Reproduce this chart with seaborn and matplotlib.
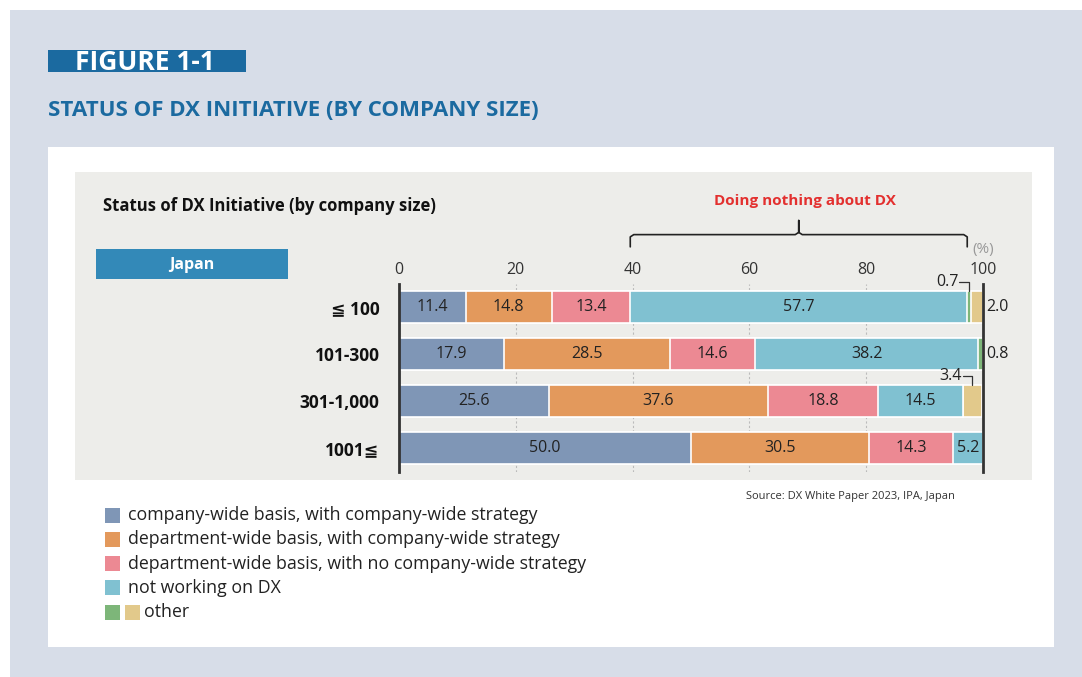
import matplotlib
matplotlib.use('Agg')
import matplotlib.pyplot as plt
from matplotlib.patches import Rectangle
from matplotlib.transforms import blended_transform_factory
import seaborn as sns
import pandas as pd
import numpy as np

# data
sizes = ['≦ 100', '101-300', '301-1,000', '1001≦']
company_wide = [11.4, 17.9, 25.6, 50.0]
dept_with_strategy = [14.8, 28.5, 37.6, 30.5]
dept_no_strategy = [13.4, 14.6, 18.8, 14.3]
not_working = [57.7, 38.2, 14.5, 5.2]
other_green = [0.7, 0.8, 0.0, 0.0]
other_tan = [2.0, 0.0, 3.4, 0.0]

legend_labels = ['company-wide basis, with company-wide strategy',
                 'department-wide basis, with company-wide strategy',
                 'department-wide basis, with no company-wide strategy',
                 'not working on DX',
                 'other']
x_ticks = [0, 20, 40, 60, 80, 100]

colors = ['#7f96b6', '#e3995c', '#ec8993', '#80c1d1', '#7db679', '#e2c98b']
segments = [company_wide, dept_with_strategy, dept_no_strategy, not_working, other_green, other_tan]

sns.set_theme(style='white')
plt.rcParams['font.family'] = ['Open Sans', 'DejaVu Sans', 'Noto Sans CJK JP']
COND = dict(family=['Open Sans', 'DejaVu Sans'], fontstretch='condensed')

W, H = 1082, 677
fig = plt.figure(figsize=(W / 100, H / 100), dpi=100, facecolor='white')

# background layer in pixel coordinates
bg = fig.add_axes([0, 0, 1, 1], zorder=-2)
bg.set_xlim(0, W)
bg.set_ylim(H, 0)
bg.axis('off')
bg.add_patch(Rectangle((10, 10), W - 10, H - 10, color='#d7dde8', lw=0))
bg.add_patch(Rectangle((48, 147), 1006, 500, color='white', lw=0))
bg.add_patch(Rectangle((75, 172), 957, 308, color='#ededea', lw=0))

bg.add_patch(Rectangle((48, 50), 198, 22, color='#1b6aa0', lw=0))
bg.text(75, 62, 'FIGURE 1-1', color='white', fontsize=19, fontweight='bold',
        va='center', ha='left', **COND)
bg.text(48, 110, 'STATUS OF DX INITIATIVE (BY COMPANY SIZE)', color='#1b6aa0',
        fontsize=16, fontweight='bold', va='center', ha='left', **COND)

bg.text(103, 206, 'Status of DX Initiative (by company size)', color='#111111',
        fontsize=12, fontweight='bold', va='center', ha='left')
bg.add_patch(Rectangle((96, 249), 192, 30, color='#3389b8', lw=0))
bg.text(192, 265, 'Japan', color='white', fontsize=11.5, fontweight='bold',
        va='center', ha='center')
bg.text(805, 201, 'Doing nothing about DX', color='#e3302f', fontsize=11,
        fontweight='bold', va='center', ha='center')
bg.text(983, 250, '(%)', color='#999999', fontsize=11, va='center', ha='center')
bg.text(955, 497, 'Source: DX White Paper 2023, IPA, Japan', color='#333333',
        fontsize=8, va='center', ha='right')

# legend drawn as squares + text
leg_colors = [[colors[0]], [colors[1]], [colors[2]], [colors[3]], [colors[4], colors[5]]]
for i, (lab, cols) in enumerate(zip(legend_labels, leg_colors)):
    yc = 515 + i * 24.3
    for j, c in enumerate(cols):
        bg.add_patch(Rectangle((105 + 20 * j, yc - 7.5), 15, 15, color=c, lw=0))
    bg.text(128 + 16 * (len(cols) - 1), yc, lab, color='#222222', fontsize=12.8,
            va='center', ha='left')

# main chart
ax = fig.add_axes([399 / W, 1 - 471.5 / H, 584 / W, 188 / H])
ax.set_facecolor('none')

df = pd.DataFrame({'size': sizes})
cums = np.cumsum(np.array(segments), axis=0)
for k in range(len(segments) - 1, -1, -1):
    df['cum'] = cums[k]
    sns.barplot(data=df, x='cum', y='size', order=sizes, orient='h', color=colors[k],
                width=0.68, edgecolor='white', linewidth=1.2, saturation=1, ax=ax, zorder=2)

# segment value labels
NUM = dict(fontsize=11.5, color='#222222')
for k in range(4):
    for r, v in enumerate(segments[k]):
        if v <= 0:
            continue
        left = cums[k][r] - v
        ax.text(left + v / 2, r, f'{v:.1f}', ha='center', va='center', zorder=5, **NUM)

# small "other" values
ax.text(100.6, 0, f'{other_tan[0]:.1f}', ha='left', va='center', clip_on=False, **NUM)
ax.text(100.6, 1, f'{other_green[1]:.1f}', ha='left', va='center', clip_on=False, **NUM)
g0 = cums[3][0] + other_green[0] / 2
ax.text(g0 - 1.9, -0.53, f'{other_green[0]:.1f}', ha='right', va='center', clip_on=False, **NUM)
ax.plot([g0 - 1.7, g0, g0], [-0.53, -0.53, -0.34], color='#333333', lw=0.9, clip_on=False)
t2 = cums[4][2] + other_tan[2] / 2
ax.text(t2 - 1.9, 1.47, f'{other_tan[2]:.1f}', ha='right', va='center', clip_on=False, **NUM)
ax.plot([t2 - 1.7, t2, t2], [1.47, 1.47, 1.66], color='#333333', lw=0.9, clip_on=False)

# brace over "doing nothing"
bl, br = cums[2][0], cums[3][0]
bm = (bl + br) / 2
tr = blended_transform_factory(ax.transData, ax.transAxes)
yb = 1.26
ax.plot([bl, bl, bl + 0.6, bm - 0.6, bm, bm, bm, bm + 0.6, br - 0.6, br, br],
        [yb - 0.065, yb - 0.012, yb, yb, yb + 0.012, yb + 0.075, yb + 0.012, yb, yb, yb - 0.012, yb - 0.065],
        color='#222222', lw=1.2, transform=tr, clip_on=False)

ax.set_xlim(0, 100)
ax.set_ylim(3.5, -0.5)
ax.set_xticks(x_ticks)
ax.set_xticklabels([str(t) for t in x_ticks], fontsize=11.5, color='#333333')
ax.xaxis.tick_top()
ax.tick_params(axis='x', length=0, pad=4)
ax.tick_params(axis='y', length=0, pad=14)
for lab in ax.get_yticklabels():
    lab.set_fontweight('bold')
    lab.set_fontsize(12.5)
    lab.set_color('#111111')
ax.set_xlabel('')
ax.set_ylabel('')
ax.grid(axis='x', linestyle=(0, (2, 2)), color='#bbbbbb', lw=0.8, zorder=0)
ax.grid(axis='y', visible=False)
ax.set_axisbelow(True)
for s in ['top', 'bottom']:
    ax.spines[s].set_visible(False)
for s in ['left', 'right']:
    ax.spines[s].set_visible(True)
    ax.spines[s].set_color('#333333')
    ax.spines[s].set_linewidth(2)
    ax.spines[s].set_zorder(6)

fig.savefig('out.png', dpi=100, facecolor='white')
